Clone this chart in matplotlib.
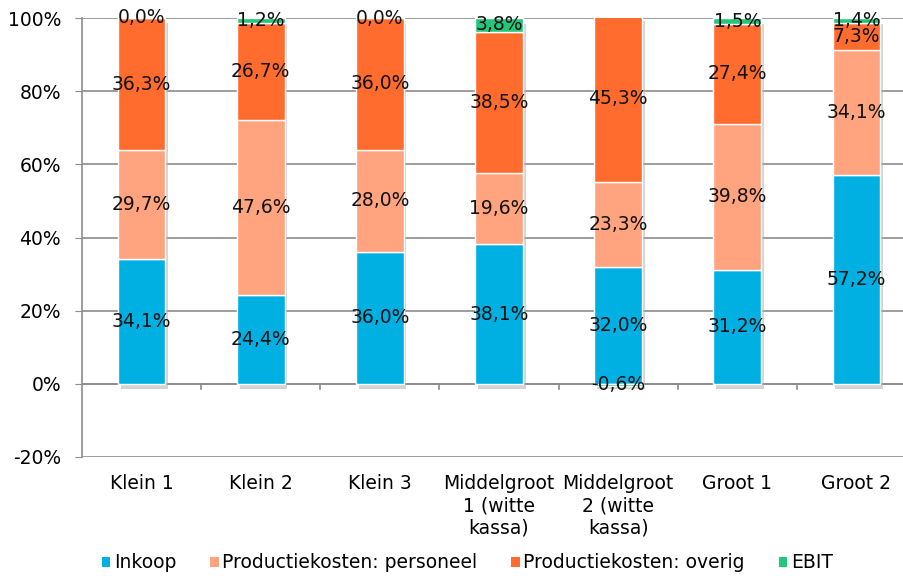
import numpy as np
import matplotlib
matplotlib.use("Agg")
from matplotlib import pyplot as plt
from matplotlib import patheffects as pe
from matplotlib.patches import Patch

categories = ["Klein 1", "Klein 2", "Klein 3", "Middelgroot\n1 (witte\nkassa)",
              "Middelgroot\n2 (witte\nkassa)", "Groot 1", "Groot 2"]
inkoop = [34.1, 24.4, 36.0, 38.1, 32.0, 31.2, 57.2]
personeel = [29.7, 47.6, 28.0, 19.6, 23.3, 39.8, 34.1]
overig = [36.3, 26.7, 36.0, 38.5, 45.3, 27.4, 7.3]
ebit = [0.0, 1.2, 0.0, 3.8, -0.6, 1.5, 1.4]

series = [("Inkoop", inkoop, "#00B0E2"),
          ("Productiekosten: personeel", personeel, "#FFA47E"),
          ("Productiekosten: overig", overig, "#FF6C2E"),
          ("EBIT", ebit, "#22C77C")]

FS = 13.5
plt.rcParams["font.family"] = ["DejaVu Sans"]
fig = plt.figure(figsize=(9.04, 5.76), dpi=100)
ax = fig.add_axes([82 / 904, 1 - 457 / 576, 834 / 904, 439 / 576])

x = np.arange(len(categories))
width = 0.40

# one shadowed backing bar per column so the shadow doesn't bleed over segments
all_vals = np.array([s[1] for s in series])
tops = np.where(all_vals > 0, all_vals, 0).sum(axis=0)
backing = ax.bar(x, tops, width, color="white", edgecolor="none", zorder=2.5)
for b in backing:
    b.set_path_effects([pe.SimplePatchShadow(offset=(2, -4), shadow_rgbFace="#b0b0b0", alpha=0.55),
                        pe.Normal()])

pos_base = np.zeros(len(categories))
neg_base = np.zeros(len(categories))
for name, vals, color in series:
    vals = np.array(vals)
    bottoms = np.where(vals >= 0, pos_base, neg_base)
    ax.bar(x, vals, width, bottom=bottoms, color=color, edgecolor="white",
           linewidth=1.0, zorder=3, label=name)
    for xi, v, b0 in zip(x, vals, bottoms):
        yc = b0 + v / 2
        ax.text(xi, yc, ("%.1f%%" % v).replace(".", ","), ha="center", va="center",
                fontsize=FS, color="#111111", zorder=5)
    pos_base = pos_base + np.where(vals >= 0, vals, 0)
    neg_base = neg_base + np.where(vals < 0, vals, 0)

ax.set_ylim(-20, 100)
ax.set_xlim(-0.5, len(categories) - 0.5)
ax.set_yticks(np.arange(-20, 101, 20))
ax.set_yticklabels(["%d%%" % t for t in range(-20, 101, 20)], fontsize=FS)
ax.yaxis.grid(True, color="#8c8c8c", linewidth=1.2, zorder=0)
ax.set_axisbelow(True)

for s in ["top", "right", "bottom"]:
    ax.spines[s].set_visible(False)
ax.spines["left"].set_color("#8c8c8c")
ax.spines["left"].set_linewidth(1.2)
ax.axhline(0, color="#8c8c8c", linewidth=1.2, zorder=2)
ax.tick_params(axis="y", length=5, color="#8c8c8c", pad=10)

# category labels hang below the -20% line, boundary ticks sit on the zero line
ax.set_xticks([])
for xi, lab in zip(x, categories):
    ax.text(xi, -24.6, lab, ha="center", va="top", fontsize=FS, linespacing=1.22)
for xb in np.arange(0.5, len(categories) - 0.5, 1):
    ax.plot([xb, xb], [0, -1.3], color="#8c8c8c", linewidth=1.2, clip_on=False, zorder=2)

handles = [Patch(facecolor=c, edgecolor="none") for _, _, c in series]
fig.legend(handles, [n for n, _, _ in series], loc="center", bbox_to_anchor=(0.517, 1 - 563 / 576),
           ncol=4, frameon=False, fontsize=FS, handlelength=0.45, handleheight=0.45,
           handletextpad=0.2, columnspacing=1.8)

fig.savefig("out.png", dpi=100)
